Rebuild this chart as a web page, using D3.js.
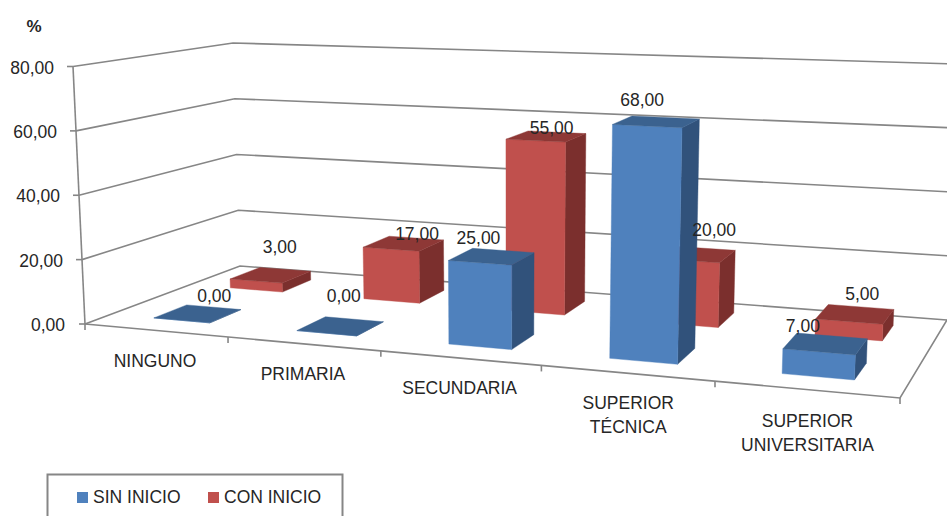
<!DOCTYPE html>
<html><head><meta charset="utf-8">
<script src="https://cdn.jsdelivr.net/npm/d3@7"></script>
<style>html,body{margin:0;padding:0;background:#fff;overflow:hidden}svg{display:block}text{font-family:"Liberation Sans",Arial,sans-serif;fill:#262626;font-size:17.5px}</style>
</head><body><div id="chart"></div>
<script>
// ---- data ----
const categories=[["NINGUNO"],["PRIMARIA"],["SECUNDARIA"],["SUPERIOR","TÉCNICA"],["SUPERIOR","UNIVERSITARIA"]];
const seriesNames=["SIN INICIO","CON INICIO"];
const sinInicio=[0,0,25,68,7];
const conInicio=[3,17,55,20,5];
const valueTicks=[0,20,40,60,80];
// ---- layout (not data) ----
const W=947,H=516;
const sinNudge=[[17,-18],[4,-30],[-12,-19],[-13,-22],[-22,-18]];
const conNudge=[[10,-28],[15,-10],[8,-8],[20,-24],[8,-20]];
const conShift=[.007,.012,.018,.012,.005];
const sinShift=[.004,.006,.008,.008,.004];
const blue={front:"#4F81BD",side:"#31527B",top:"#3B628F"};
const red={front:"#C0504D",side:"#7B2F2D",top:"#8E3836"};
const grid="#868686";
// perspective box corners, [x,y] for (u,d,v) in {0,1}^3
const C={ "000":[85,324],"100":[900,398],"010":[240,266],"110":[947,320],
          "001":[73,66.5],"101":[912,102],"011":[233,43],"111":[958,64] };
const lerp=(a,b,t)=>a+(b-a)*t;
function proj(uf,d,vf){
  return [0,1].map(i=>{
    const f=lerp(lerp(C["000"][i],C["100"][i],uf),lerp(C["001"][i],C["101"][i],uf),vf);
    const b=lerp(lerp(C["010"][i],C["110"][i],uf),lerp(C["011"][i],C["111"][i],uf),vf);
    return lerp(f,b,d);
  });
}
const uScale=d3.scaleLinear().domain([0,1,2,3,4,5]).range([0,.1755,.363,.56,.773,1]);
const vScale=d3.scaleLinear().domain([0,80]).range([0,1]);
const P=(u,d,v)=>proj(uScale(u),d,vScale(v));
const svg=d3.select("#chart").append("svg").attr("width",W).attr("height",H).attr("viewBox",[0,0,W,H]);
const line=d3.line();
const gGrid=svg.append("g").attr("fill","none").attr("stroke",grid).attr("stroke-width",1.6);
gGrid.selectAll("path.g").data(valueTicks).join("path").attr("class","g")
  .attr("d",v=>line([P(0,0,v),P(0,1,v),P(5,1,v)]));
gGrid.append("path").attr("d",line([P(0,0,0),P(5,0,0),P(5,1,0)]));
gGrid.append("path").attr("d",line([P(0,0,0),P(0,0,80)]));
gGrid.selectAll("path.yt").data(valueTicks).join("path").attr("class","yt")
  .attr("d",v=>{const p=P(0,0,v);return line([[p[0]-6,p[1]],p]);});
gGrid.selectAll("path.xt").data(d3.range(6)).join("path").attr("class","xt")
  .attr("d",u=>{const p=P(u,0,0);return line([p,[p[0],p[1]+6]]);});
svg.append("g").selectAll("text").data(valueTicks).join("text")
  .attr("x",v=>P(0,0,v)[0]-(v===0?20:19)).attr("y",v=>P(0,0,v)[1]+1).attr("text-anchor","end").attr("dy","0.35em")
  .text(v=>d3.format(".2f")(v).replace(".",","));
svg.append("text").attr("x",34).attr("y",26).attr("text-anchor","middle").attr("dy","0.35em").attr("font-weight","bold").style("font-size","17px").text("%");
const rows=[{vals:conInicio,c:red,d0:.68,d1:.88,shift:conShift,nudge:conNudge},{vals:sinInicio,c:blue,d0:.17,d1:.39,shift:sinShift,nudge:sinNudge}];
const labels=[];
const U0=.3,U1=.7;
rows.forEach(r=>{
  const g=svg.append("g");
  const bars=r.vals.map((v,i)=>({v,i}));
  const sel=g.selectAll("g").data(bars).join("g");
  const u0=d=>d.i+U0+r.shift[d.i],u1=d=>d.i+U1+r.shift[d.i];
  sel.append("path").attr("fill",r.c.side).attr("stroke",r.c.side).attr("stroke-width",.4)
    .attr("d",d=>line([P(u1(d),r.d0,0),P(u1(d),r.d1,0),P(u1(d),r.d1,d.v),P(u1(d),r.d0,d.v)])+"Z");
  sel.append("path").attr("fill",r.c.front).attr("stroke",r.c.front).attr("stroke-width",.4)
    .attr("d",d=>line([P(u0(d),r.d0,0),P(u1(d),r.d0,0),P(u1(d),r.d0,d.v),P(u0(d),r.d0,d.v)])+"Z");
  sel.append("path").attr("fill",r.c.top).attr("stroke",r.c.top).attr("stroke-width",.4)
    .attr("d",d=>line([P(u0(d),r.d0,d.v),P(u1(d),r.d0,d.v),P(u1(d),r.d1,d.v),P(u0(d),r.d1,d.v)])+"Z");
  bars.forEach(d=>{
    const c=P(d.i+.5,(r.d0+r.d1)/2,d.v);
    labels.push({v:d.v,x:c[0]+r.nudge[d.i][0],y:c[1]+r.nudge[d.i][1]});
  });
});
svg.append("g").selectAll("text").data(labels).join("text")
  .attr("x",d=>d.x).attr("y",d=>d.y).attr("text-anchor","middle").attr("dy","0.35em")
  .text(d=>d3.format(".2f")(d.v).replace(".",","));
const cat=svg.append("g").selectAll("text").data(categories).join("text").attr("text-anchor","middle");
cat.each(function(lines,i){
  const p=P(i+.5,0,0);
  d3.select(this).selectAll("tspan").data(lines).join("tspan")
    .attr("x",p[0]-(i<3?1.5:0)).attr("y",(_,k)=>p[1]+30+(i===4?1:0)+k*24).attr("dy","0.35em").text(t=>t);
});
const leg=svg.append("g");
leg.append("rect").attr("x",47.5).attr("y",474.5).attr("width",295).attr("height",60).attr("fill","#fff").attr("stroke",grid).attr("stroke-width",2);
const legX=d3.scaleOrdinal().domain(seriesNames).range([77,208]);
const legC=d3.scaleOrdinal().domain(seriesNames).range([blue.front,red.front]);
const li=leg.selectAll("g").data(seriesNames).join("g").attr("transform",d=>`translate(${legX(d)},0)`);
li.append("rect").attr("y",492).attr("width",11).attr("height",11).attr("fill",d=>legC(d));
li.append("text").attr("x",16).attr("y",497).attr("dy","0.35em").text(d=>d);
</script>
</body></html>
